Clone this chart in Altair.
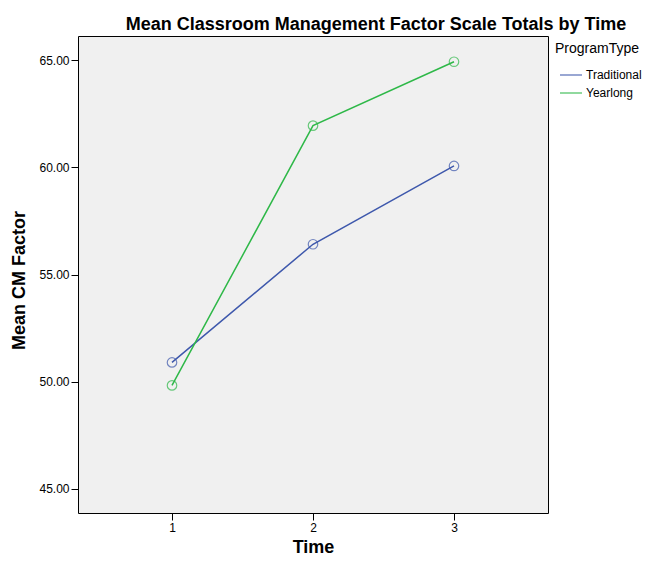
import altair as alt
import pandas as pd

times = [1, 2, 3]
traditional = [50.90, 56.41, 60.06]
yearlong = [49.83, 61.94, 64.92]
programs = ["Traditional", "Yearlong"]
colors = ["#3E58AC", "#2EB848"]
y_ticks = [45, 50, 55, 60, 65]

rows = []
for t, v in zip(times, traditional):
    rows.append({"Time": t, "Mean": v, "ProgramType": "Traditional"})
for t, v in zip(times, yearlong):
    rows.append({"Time": t, "Mean": v, "ProgramType": "Yearlong"})
df = pd.DataFrame(rows)

FONT = "Liberation Sans"

x = alt.X("Time:Q",
          scale=alt.Scale(domain=[1/3, 11/3], nice=False, zero=False),
          axis=alt.Axis(values=times, format="d", title="Time", grid=False,
                        domain=False, tickSize=7, tickColor="black",
                        labelFontSize=12, labelColor="black", labelPadding=2,
                        titleFontSize=18, titleFontWeight="bold", titleColor="black",
                        titleY=39, titleBaseline="alphabetic"))
y = alt.Y("Mean:Q",
          scale=alt.Scale(domain=[43.881, 66.119], nice=False, zero=False),
          axis=alt.Axis(values=y_ticks, format=".2f", title="Mean CM Factor", grid=False,
                        domain=False, tickSize=7, tickColor="black",
                        labelFontSize=12, labelColor="black", labelPadding=2,
                        titleFontSize=18, titleFontWeight="bold", titleColor="black",
                        titleX=-59, titleY=244, titleAngle=-90,
                        titleAlign="center", titleBaseline="middle"))
color = alt.Color("ProgramType:N",
                  scale=alt.Scale(domain=programs, range=colors),
                  legend=alt.Legend(title="ProgramType", orient="none",
                                    legendX=477, legendY=6, padding=0,
                                    symbolType="stroke", symbolSize=484,
                                    symbolStrokeWidth=1.5, symbolOffset=4,
                                    titleFontSize=14, titleFontWeight="normal",
                                    titleColor="black", titlePadding=7,
                                    labelFontSize=12, labelColor="black",
                                    labelOffset=3, rowPadding=-7))

base = alt.Chart(df)
lines = base.mark_line(strokeWidth=1.5).encode(x=x, y=y, color=color)
points = base.mark_point(shape="circle", filled=False, size=90, strokeWidth=1.2).encode(
    x=x, y=y, color=color)

chart = (lines + points).properties(
    width=470, height=477,
    title=alt.TitleParams("Mean Classroom Management Factor Scale Totals by Time",
                          fontSize=18, fontWeight="bold", color="black",
                          anchor="middle", frame="group", dx=63,
                          baseline="alphabetic", offset=-12),
    autosize=alt.AutoSizeParams(type="none"),
    padding={"left": 70, "top": 28, "right": 95, "bottom": 42},
).configure(font=FONT).configure_view(
    fill="#F0F0F0", stroke="black", strokeWidth=1
)

chart.save("out.html", embed_options={"renderer": "svg", "actions": False})
